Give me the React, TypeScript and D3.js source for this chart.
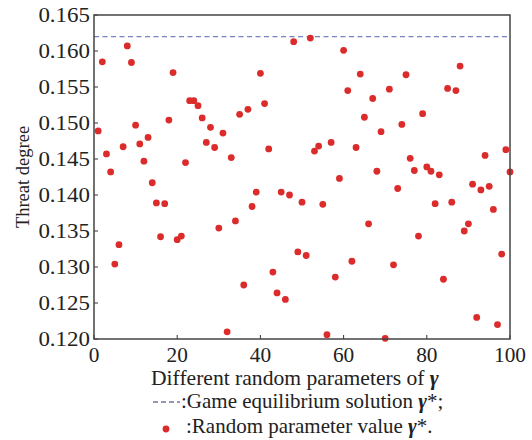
import React from 'react';
import * as d3 from 'd3';

// threat degree for each random parameter sample (x = 1..100)
const threatValues = [
  0.1489, 0.1585, 0.1457, 0.1432, 0.1304, 0.1331, 0.1467, 0.1607, 0.1584, 0.1497,
  0.1471, 0.1447, 0.1480, 0.1417, 0.1389, 0.1342, 0.1388, 0.1504, 0.1570, 0.1338,
  0.1343, 0.1445, 0.1531, 0.1531, 0.1524, 0.1507, 0.1473, 0.1494, 0.1466, 0.1354,
  0.1486, 0.1210, 0.1452, 0.1364, 0.1512, 0.1275, 0.1519, 0.1384, 0.1404, 0.1569,
  0.1527, 0.1464, 0.1293, 0.1264, 0.1404, 0.1255, 0.1400, 0.1613, 0.1321, 0.1390,
  0.1316, 0.1618, 0.1461, 0.1468, 0.1387, 0.1206, 0.1473, 0.1286, 0.1423, 0.1601,
  0.1545, 0.1308, 0.1466, 0.1568, 0.1508, 0.1360, 0.1534, 0.1433, 0.1488, 0.1201,
  0.1547, 0.1303, 0.1409, 0.1498, 0.1567, 0.1451, 0.1434, 0.1343, 0.1513, 0.1439,
  0.1433, 0.1388, 0.1428, 0.1283, 0.1548, 0.1390, 0.1545, 0.1579, 0.1350, 0.1360,
  0.1415, 0.1230, 0.1407, 0.1455, 0.1412, 0.1380, 0.1220, 0.1318, 0.1463, 0.1432,
];
const equilibrium = 0.162;
const xTicks = [0, 20, 40, 60, 80, 100];
const yTicks = [0.12, 0.125, 0.13, 0.135, 0.14, 0.145, 0.15, 0.155, 0.16, 0.165];

const W = 532;
const H = 440;
const margin = { top: 15, right: 22, bottom: 101, left: 94 };
const font = 'Liberation Serif, DejaVu Serif, serif';
const red = '#dc2b2b';

const App = () => {
  const innerW = W - margin.left - margin.right;
  const innerH = H - margin.top - margin.bottom;

  const xScale = d3.scaleLinear().domain([0, 100]).range([0, innerW]);
  const yScale = d3.scaleLinear().domain([0.12, 0.165]).range([innerH, 0]);

  return (
    <svg width={W} height={H} style={{ position: 'absolute', left: 0, top: 0, background: '#fff' }}>
      <g transform={`translate(${margin.left},${margin.top})`} fontFamily={font}>
        {/* equilibrium line */}
        <line
          x1={0}
          x2={innerW}
          y1={yScale(equilibrium)}
          y2={yScale(equilibrium)}
          stroke="#7a80c6"
          strokeWidth={1.2}
          strokeDasharray="5,3.5"
        />
        {threatValues.map((v, i) => (
          <circle key={i} cx={xScale(i + 1)} cy={yScale(v)} r={3.4} fill={red} />
        ))}

        {/* ticks point inward */}
        {xTicks.map(t => (
          <g key={t} transform={`translate(${xScale(t)},0)`}>
            <line y1={innerH} y2={innerH - 4} stroke="#333" strokeWidth={1} />
            <text transform={`translate(0,${innerH + 23}) scale(1.04,1)`} textAnchor="middle" fontSize={20.5} fill="#222">{t}</text>
          </g>
        ))}
        {yTicks.map(t => (
          <g key={t} transform={`translate(0,${yScale(t)})`}>
            <line x1={0} x2={4} stroke="#333" strokeWidth={1} />
            <text transform="translate(-4,0) scale(1.12,1)" dy="0.35em" textAnchor="end" fontSize={20.5} fill="#222">
              {d3.format('.3f')(t)}
            </text>
          </g>
        ))}

        <rect x={0} y={0} width={innerW} height={innerH} fill="none" stroke="#444" strokeWidth={1.5} />

        <text
          transform={`translate(-65,${innerH / 2}) rotate(-90)`}
          textAnchor="middle"
          fontSize={18.5}
          fill="#222"
        >
          Threat degree
        </text>
      </g>

      <g fontFamily={font} fontSize={20} fill="#222">
        <text transform="translate(151,385) scale(1.08,1)">
          Different random parameters of <tspan fontWeight="bold" fontStyle="italic">γ</tspan>
        </text>
        <line x1={153} x2={180} y1={402} y2={402} stroke="#2b2f7a" strokeWidth={1} strokeDasharray="5,3" />
        <text transform="translate(181,408) scale(1.05,1)">
          :Game equilibrium solution <tspan fontWeight="bold" fontStyle="italic">γ</tspan>*;
        </text>
        <circle cx={166} cy={429} r={3.4} fill={red} />
        <text transform="translate(186,433) scale(1.05,1)">
          :Random parameter value <tspan fontWeight="bold" fontStyle="italic">γ</tspan>*.
        </text>
      </g>
    </svg>
  );
};

export default App;
